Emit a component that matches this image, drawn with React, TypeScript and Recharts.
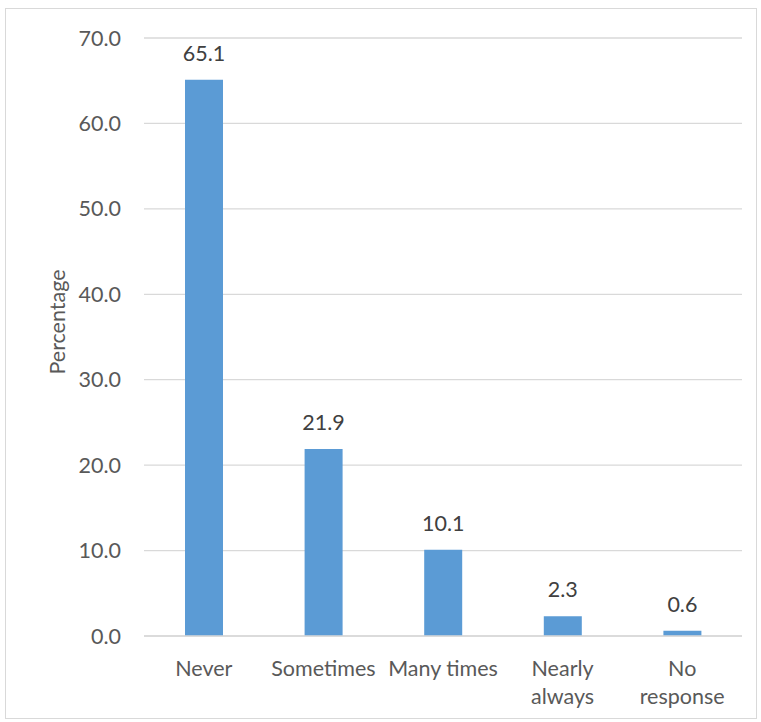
import React from "react";
import { BarChart, Bar, XAxis, YAxis, CartesianGrid, LabelList } from "recharts";

const categories = ["Never", "Sometimes", "Many times", "Nearly always", "No response"];
const percentages = [65.1, 21.9, 10.1, 2.3, 0.6];
const yTicks = [0, 10, 20, 30, 40, 50, 60, 70];
const categoryLines: string[][] = [["Never"], ["Sometimes"], ["Many times"], ["Nearly", "always"], ["No", "response"]];

const data = categories.map((c, i) => ({ name: c, value: percentages[i], lines: categoryLines[i] }));

const FONT = "Lato, 'Open Sans', sans-serif";
const TEXT = "#595959";
const FS = 21.5;

const XTick = (props: any) => {
  const { x, y, index } = props;
  const lines = categoryLines[index] || [];
  return (
    <g>
      {lines.map((l, i) => (
        <text key={i} x={x} y={y + i * 28} dy="0.71em" textAnchor="middle" fill={TEXT} fontSize={FS} fontFamily={FONT}>
          {l}
        </text>
      ))}
    </g>
  );
};

const YLabel = (props: any) => {
  const vb = props.viewBox || {};
  const x = 57;
  const y = vb.y + vb.height / 2 - 15;
  return (
    <text x={x} y={y} transform={`rotate(-90, ${x}, ${y})`} textAnchor="middle" dominantBaseline="central" fill={TEXT} fontSize={FS} fontFamily={FONT}>
      Percentage
    </text>
  );
};

export default function App() {
  return (
    <div style={{ position: "absolute", left: 0, top: 0, width: 761, height: 722, background: "#fff" }}>
      <div style={{ position: "absolute", left: 5, top: 8, width: 750, height: 709, border: "1px solid #D9D9D9" }} />
      <div style={{ position: "absolute", left: 0, top: 0 }}>
        <BarChart width={761} height={722} data={data} margin={{ top: 38, right: 19, left: 84, bottom: 56 }}>
          <CartesianGrid vertical={false} stroke="#D9D9D9" strokeWidth={1.3} />
          <XAxis dataKey="name" height={30} axisLine={{ stroke: "#D9D9D9", strokeWidth: 1.3 }} tickLine={false} tickSize={0} tickMargin={25} interval={0} tick={<XTick />} />
          <YAxis
            width={60}
            domain={[0, 70]}
            ticks={yTicks}
            tickFormatter={(v: number) => v.toFixed(1)}
            axisLine={false}
            tickLine={false}
            tickSize={0}
            tickMargin={23}
            tick={{ fill: TEXT, fontSize: FS, fontFamily: FONT }}
            label={<YLabel />}
          />
          <Bar dataKey="value" fill="#5B9BD5" barSize={38} isAnimationActive={false}>
            <LabelList dataKey="value" position="top" offset={19} formatter={(v: number) => v.toFixed(1)} fill="#404040" fontSize={FS} fontFamily={FONT} />
          </Bar>
        </BarChart>
      </div>
    </div>
  );
}
